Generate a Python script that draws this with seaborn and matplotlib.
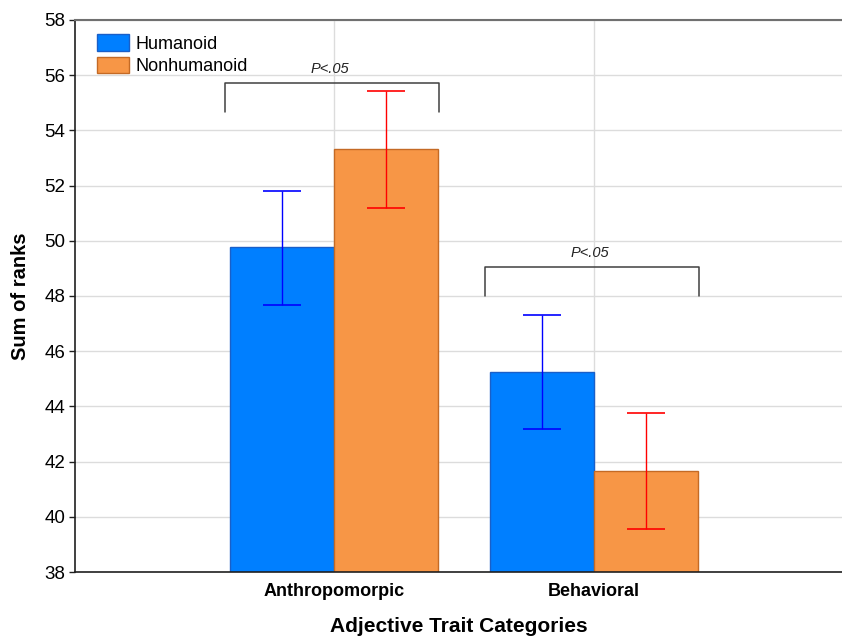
import numpy as np
import pandas as pd
import matplotlib
matplotlib.use("Agg")
import matplotlib.pyplot as plt
import seaborn as sns
from matplotlib.patches import Patch

categories = ["Anthropomorpic", "Behavioral"]
groups = ["Humanoid", "Nonhumanoid"]
humanoid_mean = [49.76, 45.25]
humanoid_low = [47.66, 43.18]
humanoid_high = [51.82, 47.30]
nonhumanoid_mean = [53.34, 41.67]
nonhumanoid_low = [51.20, 39.57]
nonhumanoid_high = [55.44, 43.77]

# significance brackets over each category
bracket_pos = [0, 1]
bracket_top = [55.73, 49.06]
bracket_bottom = [54.68, 48.00]
bracket_label = ["P<.05", "P<.05"]

fill_colors = {"Humanoid": "#007FFF", "Nonhumanoid": "#F79646"}
edge_colors = {"Humanoid": "#1A5FC8", "Nonhumanoid": "#C46A25"}
err_colors = {"Humanoid": "#0000FF", "Nonhumanoid": "#FF0000"}

df = pd.DataFrame({
    "Category": categories * 2,
    "Group": [groups[0]] * 2 + [groups[1]] * 2,
    "Mean": humanoid_mean + nonhumanoid_mean,
    "Low": humanoid_low + nonhumanoid_low,
    "High": humanoid_high + nonhumanoid_high,
})

sns.set_style("white")
plt.rcParams["font.family"] = ["Liberation Sans", "DejaVu Sans"]
for key in ["text.color", "axes.labelcolor", "xtick.color", "ytick.color"]:
    plt.rcParams[key] = "black"

fig = plt.figure(figsize=(8.42, 6.39), dpi=100)
ax = fig.add_axes([75 / 842, 67 / 639, 767 / 842, 552 / 639])

sns.barplot(data=df, x="Category", y="Mean", hue="Group", order=categories,
            hue_order=groups, palette=fill_colors, width=0.8, errorbar=None,
            saturation=1, linewidth=1, ax=ax, zorder=2)

for grp, cont in zip(groups, ax.containers):
    sub = df[df["Group"] == grp].set_index("Category").loc[categories]
    xs = []
    for bar in cont:
        bar.set_edgecolor(edge_colors[grp])
        xs.append(bar.get_x() + bar.get_width() / 2)
    xs = np.array(xs)
    yerr = np.vstack([sub["Mean"] - sub["Low"], sub["High"] - sub["Mean"]])
    ax.errorbar(xs, sub["Mean"], yerr=yerr, fmt="none", ecolor=err_colors[grp],
                elinewidth=1, capsize=14, capthick=1.2, zorder=3)

for pos, top, bot, lab in zip(bracket_pos, bracket_top, bracket_bottom, bracket_label):
    xl, xr = pos - 0.418, pos + 0.404
    ax.plot([xl, xl, xr, xr], [bot, top, top, bot], color="#404040", lw=1.1,
            solid_joinstyle="round", zorder=4)
    ax.text((xl + xr) / 2 - 0.01, top + 0.25, lab, ha="center", va="bottom",
            fontsize=10.5, style="italic", color="#222222")

ax.set_ylim(38, 58)
ax.set_yticks(np.arange(38, 59, 2))
ax.set_xlim(-0.996, 1.954)

ax.grid(True, color="#DCDCDC", lw=1, zorder=0)
ax.set_axisbelow(True)

for side in ["left", "bottom"]:
    ax.spines[side].set_color("#202020")
    ax.spines[side].set_linewidth(1.2)
ax.spines["top"].set_color("#707070")
ax.spines["top"].set_linewidth(1.5)
ax.spines["right"].set_visible(False)

ax.tick_params(axis="y", labelsize=13.5, length=4, width=1, color="#202020",
               left=True, pad=3)
ax.tick_params(axis="x", labelsize=13, length=0, pad=8)
for t in ax.get_xticklabels():
    t.set_fontweight("bold")

ax.set_xlabel("Adjective Trait Categories", fontsize=15, fontweight="bold", labelpad=12)
ax.set_ylabel("Sum of ranks", fontsize=14.5, fontweight="bold", labelpad=10)

handles = [Patch(facecolor=fill_colors[g], edgecolor=edge_colors[g], label=g) for g in groups]
ax.legend(handles=handles, loc="upper left", frameon=False, fontsize=13,
          handlelength=1.75, handleheight=1.05, handletextpad=0.4,
          labelspacing=0.2, borderaxespad=0.4, bbox_to_anchor=(0.01, 1.0))

fig.savefig("out.png", dpi=100)
